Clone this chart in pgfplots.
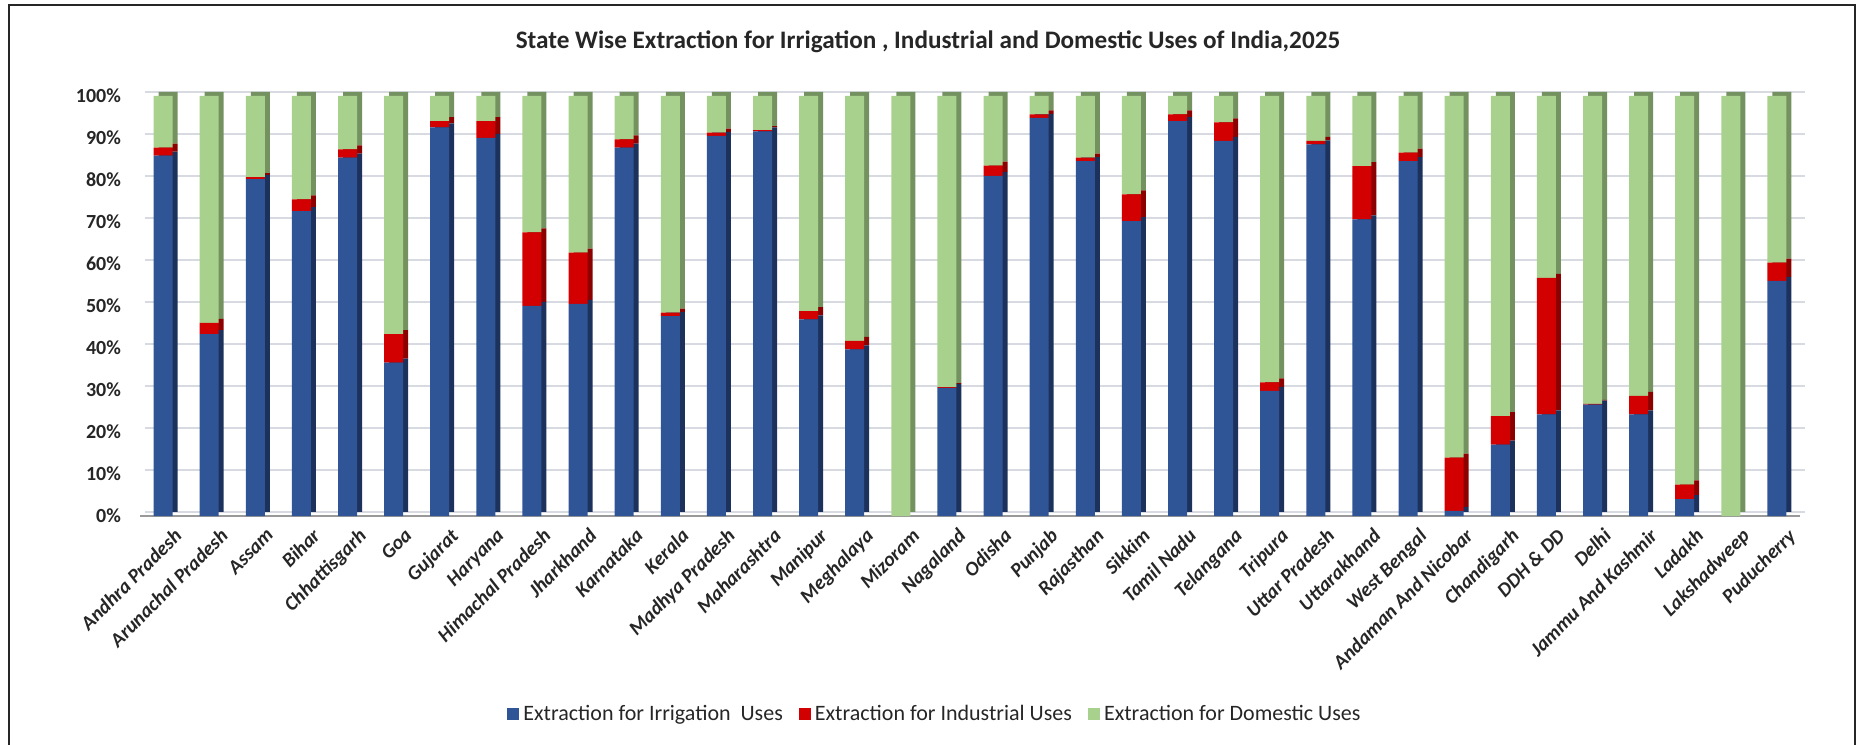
\documentclass[border=0pt]{standalone}
\usepackage{pgfplots}
\usepackage{pgfplotstable}
\pgfplotsset{compat=1.18}
\usepackage{fontspec}
\setmainfont{Carlito}

\definecolor{irr}{RGB}{47,85,151}
\definecolor{irrS}{RGB}{28,50,92}
\definecolor{ind}{RGB}{210,0,0}
\definecolor{indS}{RGB}{140,0,0}
\definecolor{dom}{RGB}{169,209,142}
\definecolor{domS}{RGB}{116,146,96}
\definecolor{gridc}{RGB}{215,218,224}

\pgfplotstableread{
x irr ind dom
0 85.8 1.9 12.3
1 43.3 2.7 54.0
2 80.2 0.5 19.3
3 72.6 2.8 24.6
4 85.3 2.0 12.7
5 36.5 6.8 56.7
6 92.5 1.5 6.0
7 90.0 4.0 6.0
8 50.0 17.5 32.5
9 50.5 12.2 37.3
10 87.7 2.0 10.3
11 47.6 0.8 51.6
12 90.5 0.8 8.7
13 91.6 0.3 8.1
14 46.8 2.0 51.2
15 39.7 2.0 58.3
16 0.0 0.0 100.0
17 30.5 0.2 69.3
18 81.0 2.4 16.6
19 94.8 0.8 4.4
20 84.5 0.8 14.7
21 70.2 6.4 23.4
22 94.0 1.6 4.4
23 89.3 4.4 6.3
24 29.8 2.0 68.2
25 88.5 0.8 10.7
26 70.6 12.7 16.7
27 84.5 2.0 13.5
28 1.2 12.7 86.1
29 17.0 6.8 76.2
30 24.2 32.5 43.3
31 26.5 0.2 73.3
32 24.2 4.4 71.4
33 4.0 3.5 92.5
34 0.0 0.0 100.0
35 56.0 4.3 39.7
}\data

\pgfplotsset{
  mybase/.style={
    scale only axis,
    width=830pt, height=210pt,
    anchor=south west,
    xmin=-0.5, xmax=35.5,
    ymin=0, ymax=100,
    ybar stacked,
    bar width=9.5pt,
    major tick length=0pt,
    clip=false,
  }
}

\begin{document}
\begin{tikzpicture}[x=1pt,y=1pt]
\path[use as bounding box] (0,0) rectangle (928,372);
\draw[line width=1pt, black!85] (4.5,-1) -- (4.5,369.5) -- (927.5,369.5) -- (927.5,-1);

\node[font=\fontsize{12.6}{14}\selectfont\bfseries, text=black!85] at (464,351)
  {State Wise Extraction for Irrigation , Industrial and Domestic Uses of India,2025};

% back layer: grid on the back wall and 3D side faces of the bars
\begin{axis}[mybase,
  at={(72.5pt,116pt)},
  axis line style={draw=none},
  xtick=\empty,
  ytick={0,10,...,100}, yticklabels={},
  ymajorgrids, grid style={gridc, line width=0.8pt},
]
\addplot[fill=irrS, draw=none] table[x=x,y=irr] {\data};
\addplot[fill=indS, draw=none] table[x=x,y=ind] {\data};
\addplot[fill=domS, draw=none] table[x=x,y=dom] {\data};
\end{axis}

% front layer
\begin{axis}[mybase,
  at={(70pt,114pt)},
  axis x line*=bottom, axis y line*=left,
  y axis line style={draw=none},
  x axis line style={draw=black!40, line width=1pt},
  xtick=data,
  xticklabels={Andhra Pradesh,Arunachal Pradesh,Assam,Bihar,Chhattisgarh,Goa,Gujarat,Haryana,Himachal Pradesh,Jharkhand,Karnataka,Kerala,Madhya Pradesh,Maharashtra,Manipur,Meghalaya,Mizoram,Nagaland,Odisha,Punjab,Rajasthan,Sikkim,Tamil Nadu,Telangana,Tripura,Uttar Pradesh,Uttarakhand,West Bengal,Andaman And Nicobar,Chandigarh,{DDH \& DD},Delhi,Jammu And Kashmir,Ladakh,Lakshadweep,Puducherry},
  xticklabel style={rotate=45, anchor=north east, font=\fontsize{10}{11}\selectfont\bfseries\itshape, text=black!85, yshift=-4pt, xshift=3pt},
  ytick={0,10,...,100},
  yticklabels={0\%,10\%,20\%,30\%,40\%,50\%,60\%,70\%,80\%,90\%,100\%},
  yticklabel style={font=\fontsize{10}{11}\selectfont\bfseries, text=black!85, xshift=-6pt},
  legend columns=3,
  legend style={draw=none, fill=none, at={(axis description cs:0.4795,-0.472)}, anchor=center,
    font=\fontsize{11}{12}\selectfont, text=black!85,
    /tikz/every even column/.append style={column sep=6pt}},
  legend image code/.code={\fill[#1] (0pt,-3pt) rectangle (6pt,3pt);},
]
\addplot[fill=irr, draw=none] table[x=x,y=irr] {\data};
\addlegendentry{Extraction for Irrigation\ \ Uses}
\addplot[fill=ind, draw=none] table[x=x,y=ind] {\data};
\addlegendentry{Extraction for Industrial Uses}
\addplot[fill=dom, draw=none] table[x=x,y=dom] {\data};
\addlegendentry{Extraction for Domestic Uses}
\end{axis}
\end{tikzpicture}
\end{document}
